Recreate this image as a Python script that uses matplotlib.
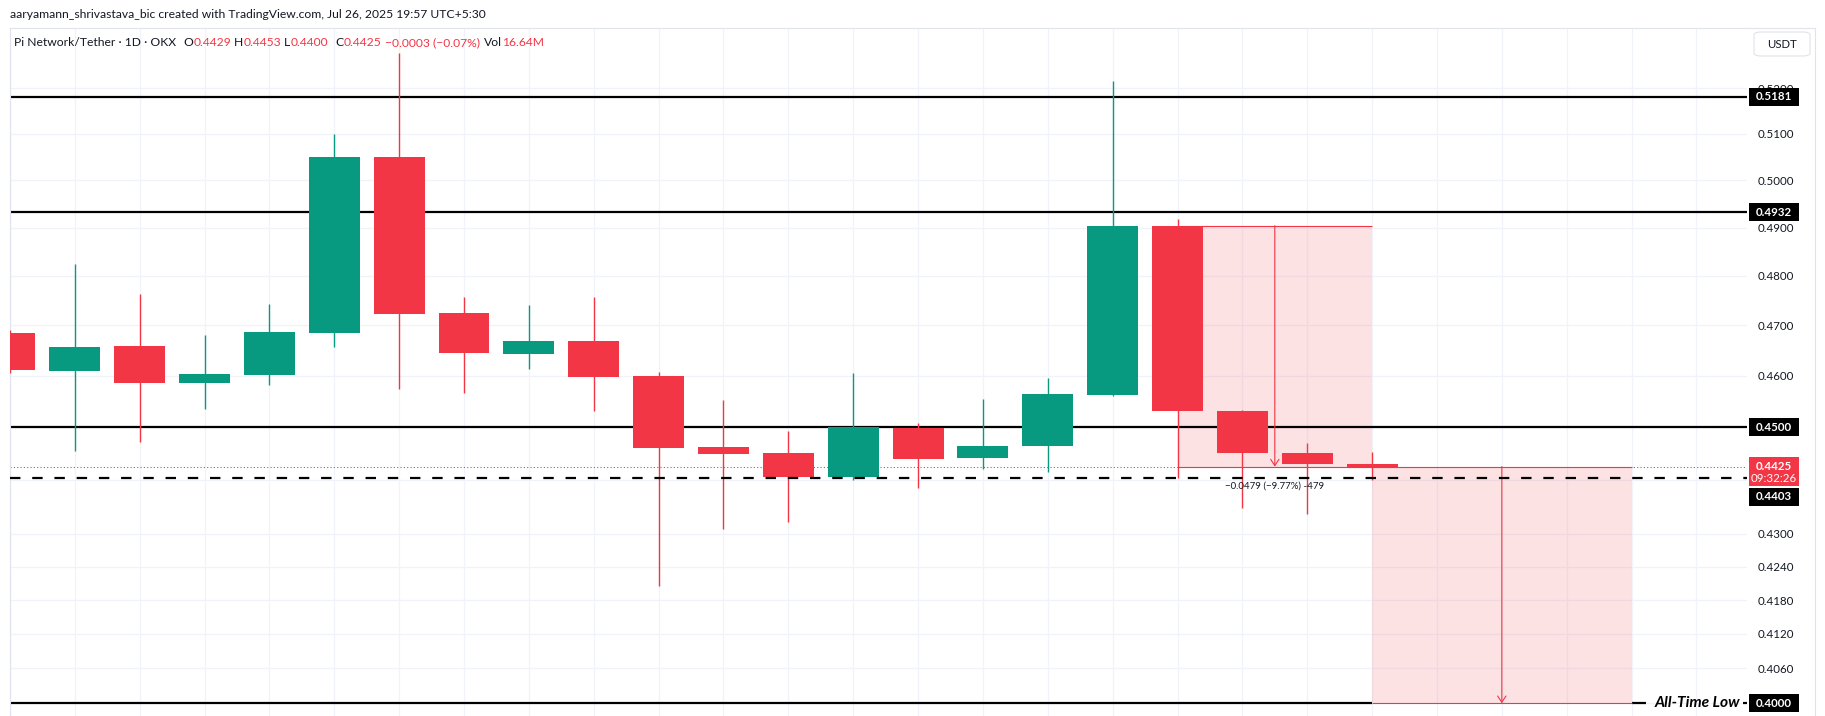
import numpy as np
import matplotlib
matplotlib.use('Agg')
import matplotlib.pyplot as plt
from matplotlib.patches import Rectangle, FancyBboxPatch
from matplotlib.ticker import FixedLocator, FixedFormatter, NullLocator, NullFormatter
from matplotlib.lines import Line2D

plt.rcParams['font.family'] = ['Lato', 'DejaVu Sans']
plt.rcParams['lines.scale_dashes'] = False

# ---------------- data ----------------
opens  = [0.4685, 0.4610, 0.4659, 0.4586, 0.4602, 0.4685, 0.5050, 0.4724, 0.4643, 0.4668, 0.4600,
          0.4462, 0.4451, 0.4405, 0.4499, 0.4442, 0.4464, 0.4563, 0.4904, 0.4532, 0.4451, 0.4429]
highs  = [0.4690, 0.4825, 0.4763, 0.4681, 0.4743, 0.5100, 0.5280, 0.4757, 0.4741, 0.4757, 0.4607,
          0.4552, 0.4492, 0.4605, 0.4508, 0.4554, 0.4595, 0.5216, 0.4917, 0.4533, 0.4470, 0.4453]
lows   = [0.4605, 0.4455, 0.4472, 0.4536, 0.4581, 0.4657, 0.4574, 0.4567, 0.4613, 0.4532, 0.4206,
          0.4309, 0.4322, 0.4400, 0.4385, 0.4421, 0.4415, 0.4560, 0.4403, 0.4347, 0.4337, 0.4400]
closes = [0.4612, 0.4657, 0.4586, 0.4603, 0.4687, 0.5050, 0.4723, 0.4645, 0.4669, 0.4598, 0.4461,
          0.4448, 0.4405, 0.4500, 0.4440, 0.4464, 0.4564, 0.4904, 0.4532, 0.4451, 0.4429, 0.4425]

resistance_levels = [0.5181, 0.4932, 0.4500]
support_level = 0.4403
all_time_low = 0.4000
last_price = 0.4425
countdown = "09:32:26"

range1_bars = (18, 21)
range1_prices = (0.4904, 0.4425)
range1_label = "\u22120.0479 (\u22129.77%) -479"
range2_bars = (21, 25)
range2_prices = (0.4425, 0.4000)

ytick_values = [0.4000, 0.4060, 0.4120, 0.4180, 0.4240, 0.4300, 0.4400, 0.4500,
                0.4600, 0.4700, 0.4800, 0.4900, 0.5000, 0.5100, 0.5200]
ytick_labels = ['0.4000', '0.4060', '0.4120', '0.4180', '0.4240', '0.4300', '', '',
                '0.4600', '0.4700', '0.4800', '0.4900', '0.5000', '0.5100', '0.5200']

header_text = "aaryamann_shrivastava_bic created with TradingView.com, Jul 26, 2025 19:57 UTC+5:30"
legend_title = "Pi Network/Tether \u00b7 1D \u00b7 OKX"
legend_fields = [("O", "0.4429"), ("H", "0.4453"), ("L", "0.4400"), ("C", "0.4425")]
legend_change = "\u22120.0003 (\u22120.07%)"
legend_vol = ("Vol", "16.64M")

# ---------------- style ----------------
GREEN = '#089981'
RED = '#F23645'
DARK = '#131722'
GRID = '#F0F3FA'
BORDER = '#E0E3EB'

W, H = 1825, 716
fig = plt.figure(figsize=(W / 100, H / 100), dpi=100)
fig.patch.set_facecolor('white')

pane_left, pane_right, pane_top = 10, 1747, 28
ax = fig.add_axes([pane_left / W, 0, (pane_right - pane_left) / W, (H - pane_top) / H])
renderer = fig.canvas.get_renderer()


def fit_width(text_artist, target_px):
    w = text_artist.get_window_extent(renderer).width
    text_artist.set_fontsize(text_artist.get_fontsize() * target_px / w)


o = np.array(opens); h = np.array(highs); l = np.array(lows); c = np.array(closes)
idx = np.arange(len(o))
colors = np.where(c >= o, GREEN, RED)

ax.set_yscale('log')
ax.vlines(idx, l, h, colors=colors, lw=1.0, zorder=3, clip_on=True)
ax.bar(idx, np.abs(c - o), bottom=np.minimum(o, c), width=0.785, color=colors, linewidth=0, zorder=3.1)

ax.set_xlim(0.057, 26.78)
ax.set_ylim(0.39783, 0.53355)

# grid / ticks
ax.set_axisbelow(True)
ax.set_xticks(np.arange(0, 27))
ax.tick_params(axis='x', length=0, labelbottom=False)
ax.yaxis.tick_right()
ax.yaxis.set_major_locator(FixedLocator(ytick_values))
ax.yaxis.set_major_formatter(FixedFormatter(ytick_labels))
ax.yaxis.set_minor_locator(NullLocator())
ax.yaxis.set_minor_formatter(NullFormatter())
ax.tick_params(axis='y', length=0, pad=7.5, labelsize=8.3, labelcolor=DARK)
ax.grid(True, color=GRID, lw=0.9)
for s in ['right', 'bottom']:
    ax.spines[s].set_visible(False)
ax.spines['left'].set_color(BORDER)
ax.spines['top'].set_color(BORDER)
ax.spines['left'].set_linewidth(0.8)
ax.spines['top'].set_linewidth(0.8)

x0, x1 = ax.get_xlim()

# horizontal levels
for lv in resistance_levels:
    ax.axhline(lv, color='black', lw=1.6, zorder=2)
ax.axhline(support_level, color='black', lw=1.6, dashes=(7.5, 8.5), zorder=3.5)
ax.axhline(last_price, color=RED, lw=0.75, linestyle=(0, (0.8, 1.6)), zorder=2.2)

# price range boxes
for (b0, b1), (p_top, p_bot) in [(range1_bars, range1_prices), (range2_bars, range2_prices)]:
    ax.add_patch(Rectangle((b0, p_bot), b1 - b0, p_top - p_bot, facecolor=RED, alpha=0.14,
                           edgecolor='none', zorder=1))
    ax.hlines([p_top, p_bot], b0, b1, color=RED, lw=0.8, zorder=2.6)
    xm = (b0 + b1) / 2
    ax.annotate('', xy=(xm, p_bot), xytext=(xm, p_top),
                arrowprops=dict(arrowstyle='->,head_length=0.45,head_width=0.3', color=RED,
                                lw=0.8, shrinkA=0, shrinkB=0), zorder=2.7)

rl = ax.annotate(range1_label, xy=(sum(range1_bars) / 2, range1_prices[1]), xytext=(0, -20),
                 textcoords='offset pixels', ha='center', va='center', fontsize=7.0, color=DARK,
                 zorder=6)
fit_width(rl, 99)

# all-time low line (broken around its text)
ax.hlines(all_time_low, x0, range2_bars[0], color='black', lw=1.6, zorder=2)
text_left_idx = (1646 - 6.3) / 65.0
ax.hlines(all_time_low, range2_bars[1], text_left_idx, color='black', lw=1.6, zorder=2)
ax.hlines(all_time_low, (1743 - 6.3) / 65.0, x1, color='black', lw=1.6, zorder=2)
atl = ax.annotate('All-Time Low', xy=(x1, all_time_low), xytext=(-7, 0), textcoords='offset pixels',
                  ha='right', va='center', fontsize=10.6, fontweight='bold', fontstyle='italic',
                  color='black', zorder=6)
fit_width(atl, 86)


# ---------------- pixel helpers ----------------
def ypx(price):
    return H - ax.transData.transform((0, price))[1]


def fx(x):
    return x / W


def fy(y):
    return 1 - y / H


def price_box(yc, text, color, height=18):
    fig.add_artist(Rectangle((fx(1749), fy(yc + height / 2)), 50 / W, height / H,
                             transform=fig.transFigure, facecolor=color, edgecolor='none', zorder=10))
    fig.text(fx(1774), fy(yc), text, ha='center', va='center', color='white',
             fontsize=8.3, fontweight='bold', zorder=11)


for lv in resistance_levels:
    price_box(ypx(lv), f"{lv:.4f}", 'black')
price_box(ypx(all_time_low), f"{all_time_low:.4f}", 'black')

# last price (red, two lines)
y_last = ypx(last_price)
fig.add_artist(Rectangle((fx(1749), fy(y_last + 19)), 50 / W, 29 / H, transform=fig.transFigure,
                         facecolor=RED, edgecolor='none', zorder=10))
fig.text(fx(1774), fy(y_last), f"{last_price:.4f}", ha='center', va='center', color='white',
         fontsize=8.3, fontweight='bold', zorder=11)
fig.text(fx(1774), fy(y_last + 12), countdown, ha='center', va='center', color='white',
         fontsize=8.3, zorder=11)
# support label (shifted below the red label)
price_box(y_last + 30, f"{support_level:.4f}", 'black')

# USDT box
fig.add_artist(FancyBboxPatch((fx(1754), fy(56)), 56 / W, 24 / H,
                              boxstyle='round,pad=0,rounding_size=0.004',
                              transform=fig.transFigure, facecolor='white', edgecolor=BORDER,
                              lw=0.8, zorder=10))
fig.text(fx(1782), fy(44), 'USDT', ha='center', va='center', fontsize=8.2, color=DARK, zorder=11)

# separators
fig.add_artist(Line2D([fx(1815), fx(1815)], [fy(pane_top), 0], transform=fig.transFigure,
                      color=BORDER, lw=0.8))
fig.add_artist(Line2D([fx(pane_right), fx(1815)], [fy(pane_top), fy(pane_top)],
                      transform=fig.transFigure, color=BORDER, lw=0.8))

# header
hdr = fig.text(fx(10), fy(14), header_text, ha='left', va='center', fontsize=10, color=DARK)
fit_width(hdr, 474)
fs = hdr.get_fontsize()

# legend line: label start positions (px) as in the reference
fig.text(fx(14), fy(43), legend_title, ha='left', va='center', fontsize=fs, color=DARK)
label_x = [183, 234, 284, 335]
for xs, (k, v) in zip(label_x, legend_fields):
    t = fig.text(fx(xs), fy(43), k, ha='left', va='center', fontsize=fs, color=DARK)
    wk = t.get_window_extent(renderer).width
    fig.text(fx(xs + wk + 0.5), fy(43), v, ha='left', va='center', fontsize=fs, color=RED)
fig.text(fx(385), fy(43), legend_change, ha='left', va='center', fontsize=fs, color=RED)
t = fig.text(fx(484), fy(43), legend_vol[0], ha='left', va='center', fontsize=fs, color=DARK)
wk = t.get_window_extent(renderer).width
fig.text(fx(484 + wk + 0.5), fy(43), legend_vol[1], ha='left', va='center', fontsize=fs, color=RED)

fig.savefig('out.png', dpi=100, facecolor='white')
